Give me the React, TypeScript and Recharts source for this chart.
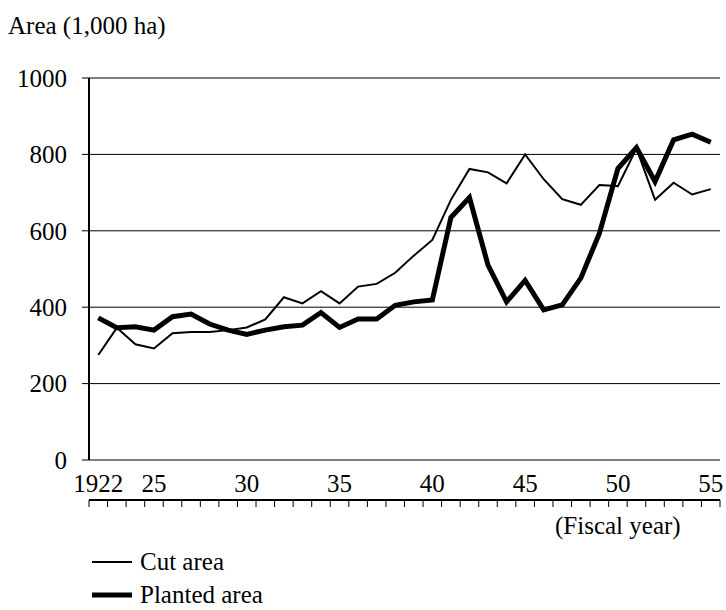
import React from 'react';
import { LineChart, Line, XAxis, YAxis, CartesianGrid, Legend } from 'recharts';

const years = [
  1922, 1923, 1924, 1925, 1926, 1927, 1928, 1929, 1930, 1931, 1932, 1933, 1934, 1935, 1936, 1937, 1938,
  1939, 1940, 1941, 1942, 1943, 1944, 1945, 1946, 1947, 1948, 1949, 1950, 1951, 1952, 1953, 1954, 1955,
];

const cutArea = [
  275, 346, 303, 292, 332, 335, 335, 340, 347, 368, 426, 410, 442, 410, 454, 461, 490,
  535, 576, 681, 762, 753, 724, 800, 735, 683, 668, 720, 717, 816, 681, 726, 695, 709,
];

const plantedArea = [
  372, 346, 349, 340, 375, 382, 356, 340, 329, 340, 349, 353, 386, 347, 369, 369, 405,
  414, 419, 635, 687, 510, 414, 470, 393, 406, 476, 593, 763, 818, 729, 838, 853, 832,
];

const labelYears = [1922, 1925, 1930, 1935, 1940, 1945, 1950, 1955];
const labelTexts = ['1922', '25', '30', '35', '40', '45', '50', '55'];
const yTicks = [0, 200, 400, 600, 800, 1000];

// tick marks sit on the boundaries between fiscal years
const boundaries = [...years.map((y) => y - 0.5), years[years.length - 1] + 0.5];
const xDomain = [boundaries[0], boundaries[boundaries.length - 1]];

const data = years.map((year, i) => ({ year, cut: cutArea[i], planted: plantedArea[i] }));

const FONT = 'Liberation Serif, Times New Roman, Tinos, DejaVu Serif, serif';
const textStyle = { fontSize: 25, fill: '#000', fontFamily: FONT };

const LegendBox = () => (
  <div style={{ fontFamily: FONT, fontSize: 25, color: '#000' }}>
    {[
      { name: 'Cut area', width: 2 },
      { name: 'Planted area', width: 5 },
    ].map((item) => (
      <div key={item.name} style={{ display: 'flex', alignItems: 'center', height: 33 }}>
        <svg width={40} height={12} style={{ marginRight: 8 }}>
          <line x1={0} y1={6} x2={40} y2={6} stroke="#000" strokeWidth={item.width} strokeLinecap="round" />
        </svg>
        <span>{item.name}</span>
      </div>
    ))}
  </div>
);

export default function App() {
  return (
    <div style={{ position: 'absolute', left: 0, top: 0, width: 726, height: 610, fontFamily: FONT }}>
      <div style={{ position: 'absolute', left: 8, top: 12, fontSize: 25, lineHeight: 'normal' }}>
        Area (1,000 ha)
      </div>
      <div style={{ position: 'absolute', left: 555, top: 512, fontSize: 25, lineHeight: 'normal' }}>
        (Fiscal year)
      </div>
      <LineChart width={726} height={610} data={data} margin={{ top: 78, right: 6, left: 0, bottom: 102 }}>
        <CartesianGrid xAxisId="marks" vertical={false} stroke="#000" strokeWidth={1} />
        <XAxis
          xAxisId="marks"
          dataKey="year"
          type="number"
          domain={xDomain}
          allowDataOverflow
          ticks={boundaries}
          interval={0}
          tickFormatter={() => ''}
          tickSize={7}
          height={8}
          axisLine={{ stroke: '#000', strokeWidth: 2 }}
          tickLine={{ stroke: '#000' }}
        />
        <XAxis
          xAxisId="labels"
          dataKey="year"
          type="number"
          domain={xDomain}
          allowDataOverflow
          ticks={labelYears}
          interval={0}
          tickFormatter={(v) => labelTexts[labelYears.indexOf(v)]}
          tick={textStyle}
          tickSize={0}
          tickMargin={14}
          height={40}
          axisLine={false}
          tickLine={false}
        />
        <YAxis
          domain={[0, 1000]}
          ticks={yTicks}
          interval={0}
          width={89}
          tick={textStyle}
          tickSize={7}
          tickMargin={15}
          axisLine={{ stroke: '#000', strokeWidth: 2 }}
          tickLine={{ stroke: '#000' }}
        />
        <Legend
          layout="horizontal"
          align="center"
          verticalAlign="middle"
          content={<LegendBox />}
          wrapperStyle={{ position: 'absolute', left: 92, top: 545, width: 260 }}
        />
        <Line
          xAxisId="labels"
          type="linear"
          dataKey="cut"
          name="Cut area"
          stroke="#000"
          strokeWidth={2}
          dot={false}
          isAnimationActive={false}
        />
        <Line
          xAxisId="marks"
          type="linear"
          dataKey="planted"
          name="Planted area"
          stroke="#000"
          strokeWidth={5}
          dot={false}
          isAnimationActive={false}
        />
      </LineChart>
    </div>
  );
}
